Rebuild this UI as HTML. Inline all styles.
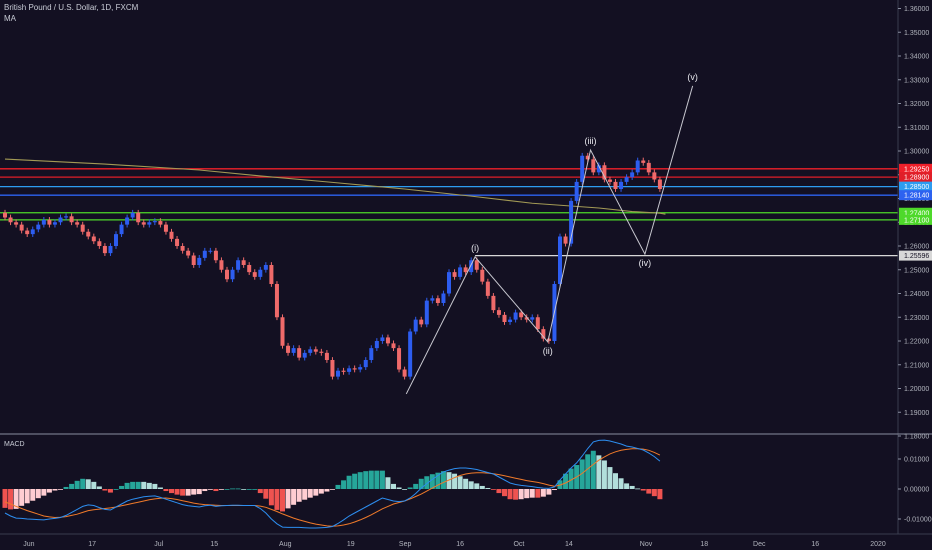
<!DOCTYPE html>
<html><head><meta charset="utf-8"><style>
html,body{margin:0;padding:0;background:#131022;}
svg{display:block;font-family:"Liberation Sans",sans-serif;}
</style></head><body>
<svg id="c" width="932" height="550" viewBox="0 0 932 550">
<rect width="932" height="550" fill="#131022"/>
<g id="g-grid"></g>
<g id="g-levels"></g>
<g id="g-ma"></g>
<g id="g-candles"></g>
<g id="g-waves"></g>
<g id="g-macd"></g>
<g id="g-axis"></g>
<text x="4" y="10" fill="#c9ccd6" font-size="8">British Pound / U.S. Dollar, 1D, FXCM</text>
<text x="4" y="21" fill="#c9ccd6" font-size="8">MA</text>
<text x="4" y="446" fill="#c9ccd6" font-size="7">MACD</text>
</svg>
<script>
const closes=[1.2720,1.2700,1.2690,1.2665,1.2650,1.2670,1.2690,1.2710,1.2690,1.2700,
1.2720,1.2725,1.2700,1.2690,1.2660,1.2640,1.2620,1.2600,1.2570,1.2600,
1.2650,1.2690,1.2720,1.2740,1.2700,1.2690,1.2700,1.2705,1.2690,1.2660,
1.2630,1.2600,1.2580,1.2560,1.2520,1.2550,1.2580,1.2580,1.2540,1.2500,
1.2460,1.2500,1.2540,1.2520,1.2490,1.2470,1.2500,1.2520,1.2440,1.2300,
1.2180,1.2150,1.2170,1.2130,1.2150,1.2165,1.2155,1.2150,1.2120,1.2050,
1.2075,1.2070,1.2085,1.2080,1.2090,1.2120,1.2170,1.2200,1.2215,1.2190,
1.2170,1.2080,1.2050,1.2240,1.2290,1.2270,1.2370,1.2380,1.2360,1.2400,
1.2490,1.2470,1.2510,1.2490,1.2540,1.2500,1.2450,1.2390,1.2330,1.2310,
1.2280,1.2290,1.2320,1.2300,1.2290,1.2300,1.2250,1.2210,1.2200,1.2440,
1.2640,1.2610,1.2790,1.2870,1.2980,1.2965,1.2910,1.2940,1.2880,1.2870,
1.2840,1.2870,1.2890,1.2910,1.2960,1.2950,1.2910,1.2880,1.2840];
const firstOpen=1.2740;
const maVals=[1.2966,1.2945,1.2920,1.2895,1.2870,1.2840,1.2810,1.2780,1.2760,1.2745,1.2738,1.2734];
const maIdx=[0,18,35,46,58,72,84,95,107,113,118,119];
const levels=[1.2925,1.2890,1.2850,1.2814,1.2740,1.2710,1.25596];
const levelLabels=["1.29250","1.28900","1.28500","1.28140","1.27400","1.27100","1.25596"];
const levelColors=["#f0202a","#e01e28","#2d9cf0","#2d62f0","#4ed92a","#4ed92a","#d8d8d8"];
const priceTicks=[1.36,1.35,1.34,1.33,1.32,1.31,1.30,1.29,1.28,1.27,1.26,1.25,1.24,1.23,1.22,1.21,1.20,1.19,1.18];
const waveIdx=[72.3,84.7,97.8,105.5,115.3,123.9];
const wavePrices=[1.1977,1.2554,1.2196,1.3004,1.2566,1.3274];
const waveNames=["","(i)","(ii)","(iii)","(iv)","(v)"];
const dateLabels=["Jun","17","Jul","15","Aug","19","Sep","16","Oct","14","Nov","18","Dec","16","2020"];
const dateIdx=[4.3,15.7,27.7,37.7,50.5,62.3,72.1,82,92.6,101.6,115.5,126,135.9,146,157.3];
const macdLine=[-8,-9,-9.7,-9.8,-10,-10.1,-10.2,-10.3,-10,-9.8,
-9.5,-8.8,-7.8,-6.8,-5.8,-5.3,-5.5,-6.2,-6.8,-7,
-6,-5,-4,-3.4,-3,-2.6,-2.4,-2.3,-2.8,-3.4,
-4,-4.6,-5.2,-5.6,-5.8,-6,-5.6,-5.4,-5.8,-5.6,
-5.5,-5.4,-5.4,-5.5,-5.5,-5.5,-6.5,-8,-10,-11.6,
-12.7,-12.8,-12.8,-12.8,-12.9,-13,-13,-12.9,-12.8,-12.5,
-11.5,-10.3,-9,-8,-7,-6,-5,-4,-3,-3.5,
-4,-4.2,-4,-3,-1.5,0.3,1.8,3.2,4.5,5.7,
6.3,6.8,7,7,6.8,6.5,6,5.5,5,4,
3,2,1.5,1.2,1,0.8,0.5,0.3,0.2,0.7,
3,5,7,8.7,11,13.5,15.7,16.2,16.3,16,
15.5,15,14.3,14,13.5,13,12,10.8,9.3];
const signalLine=[-4.3,-5,-5.8,-6.5,-7.2,-7.8,-8.4,-9,-9.3,-9.5,
-9.4,-9.2,-8.8,-8.4,-7.8,-7.2,-6.9,-6.7,-6.5,-6.3,
-6,-5.6,-5.2,-4.8,-4.4,-4,-3.6,-3.3,-3.1,-3,
-3.2,-3.5,-3.9,-4.3,-4.7,-5,-5.2,-5.3,-5.4,-5.5,
-5.5,-5.5,-5.5,-5.5,-5.5,-5.5,-5.7,-6.1,-6.8,-7.5,
-8.3,-9,-9.7,-10.3,-10.8,-11.3,-11.7,-12,-12.3,-12.4,
-12.3,-12,-11.6,-11,-10.3,-9.5,-8.6,-7.6,-6.6,-5.8,
-5,-4.5,-4,-3.3,-2.5,-1.7,-0.7,0.3,1.3,2.2,
3,3.8,4.5,5,5.3,5.4,5.4,5.3,5.1,4.8,
4.4,4,3.6,3.2,2.8,2.5,2.2,1.8,1.3,0.9,
1.3,2,3,4,5.2,6.7,8.2,9.6,10.7,11.7,
12.4,12.9,13.2,13.4,13.4,13.3,12.9,12.2,11.3];
const macdTicks=[0.01,0,-0.01];
const macdTickLabels=["0.01000","0.00000","-0.01000"];

const NS="http://www.w3.org/2000/svg";
const X=i=>5+i*5.55;
const Y=p=>151+(1.30-p)*2375;
const MY=v=>489-v*3000;
function mk(parent,tag,attrs,txt){const e=document.createElementNS(NS,tag);for(const k in attrs)e.setAttribute(k,attrs[k]);if(txt!==undefined)e.textContent=txt;document.getElementById(parent).appendChild(e);return e;}

let e;
e=mk('g-axis','line',{x1:898,y1:0,x2:898,y2:534,stroke:'#3a3d4f','stroke-width':1});


e=mk('g-axis','line',{x1:0,y1:434,x2:932,y2:434,stroke:'#8a8ea0','stroke-width':1});


e=mk('g-axis','line',{x1:0,y1:534,x2:932,y2:534,stroke:'#3a3d4f','stroke-width':1});


priceTicks.forEach(p=>{
 const y=Y(p);
 e=mk('g-axis','line',{x1:898,y1:y,x2:901,y2:y,stroke:'#8a8ea0'});
 
 
 e=mk('g-axis','text',{x:904,y:y+2.5,fill:'#b2b5be','font-size':7},p.toFixed(5));
 
 
});
macdTicks.forEach((v,k)=>{
 const y=MY(v);
 e=mk('g-axis','line',{x1:898,y1:y,x2:901,y2:y,stroke:'#8a8ea0'});
 
 
 e=mk('g-axis','text',{x:904,y:y+2.5,fill:'#b2b5be','font-size':7},macdTickLabels[k]);
 
 
});
dateLabels.forEach((d,k)=>{
 e=mk('g-axis','text',{x:X(dateIdx[k]),y:546,fill:'#b2b5be','font-size':7,'text-anchor':'middle'},d);
 
 
});

levels.forEach((p,k)=>{
 const y=Y(p);
 const x1=k===6?X(84.7):0;
 e=mk('g-levels','line',{x1:x1,y1:y,x2:898,y2:y,stroke:levelColors[k],'stroke-width':1.3});
 
 
 e=mk('g-axis','rect',{x:899,y:y-5,width:33,height:10,fill:levelColors[k]});
 
 
 e=mk('g-axis','text',{x:904,y:y+2.5,fill:k===6?'#131022':'#ffffff','font-size':7},levelLabels[k]);
 
 
});

let d='';
maVals.forEach((v,k)=>{d+=(k?'L':'M')+X(maIdx[k])+' '+Y(v);});
e=mk('g-ma','path',{d:d,fill:'none',stroke:'#a39a55','stroke-width':1.1});



closes.forEach((c,i)=>{
 const o=i?closes[i-1]:firstOpen;
 const up=c>=o;
 const col=up?'#2d5df0':'#ef6a6a';
 const hi=Math.max(o,c)+0.0012, lo=Math.min(o,c)-0.0012;
 const x=X(i);
 e=mk('g-candles','line',{x1:x,y1:Y(hi),x2:x,y2:Y(lo),stroke:col,'stroke-width':1});
 
 
 const yt=Y(Math.max(o,c)), h=Math.max(1,Y(Math.min(o,c))-yt);
 e=mk('g-candles','rect',{x:x-2,y:yt,width:4,height:h,fill:col});
 
 
});

let wd='';
waveIdx.forEach((w,k)=>{wd+=(k?'L':'M')+X(w)+' '+Y(wavePrices[k]);});
e=mk('g-waves','path',{d:wd,fill:'none',stroke:'#c8c8d0','stroke-width':1});


const above=[0,1,0,1,0,1];
waveNames.forEach((n,k)=>{
 if(!n)return;
 const y=Y(wavePrices[k])+(above[k]?-6:12);
 e=mk('g-waves','text',{x:X(waveIdx[k]),y:y,fill:'#e8e8ee','font-size':9,'text-anchor':'middle'},n);
 
 
});

macdLine.forEach((m,i)=>{
 const h=(m-signalLine[i])/1000;
 const prev=i?(macdLine[i-1]-signalLine[i-1])/1000:h;
 let col;
 if(h>=0)col=h>=prev?'#26a69a':'#b2dfdb'; else col=h<=prev?'#ef5350':'#ffcdd2';
 const y0=MY(0),y1=MY(h*1.7);
 e=mk('g-macd','rect',{x:X(i)-2.5,y:Math.min(y0,y1),width:5,height:Math.max(0.8,Math.abs(y1-y0)),fill:col});
 
 
});
let md='',sd='';
macdLine.forEach((m,i)=>{md+=(i?'L':'M')+X(i)+' '+MY(m/1000);});
signalLine.forEach((s,i)=>{sd+=(i?'L':'M')+X(i)+' '+MY(s/1000);});
e=mk('g-macd','path',{d:sd,fill:'none',stroke:'#f07a2a','stroke-width':1});


e=mk('g-macd','path',{d:md,fill:'none',stroke:'#2d8ef0','stroke-width':1});


</script>
</body></html>
